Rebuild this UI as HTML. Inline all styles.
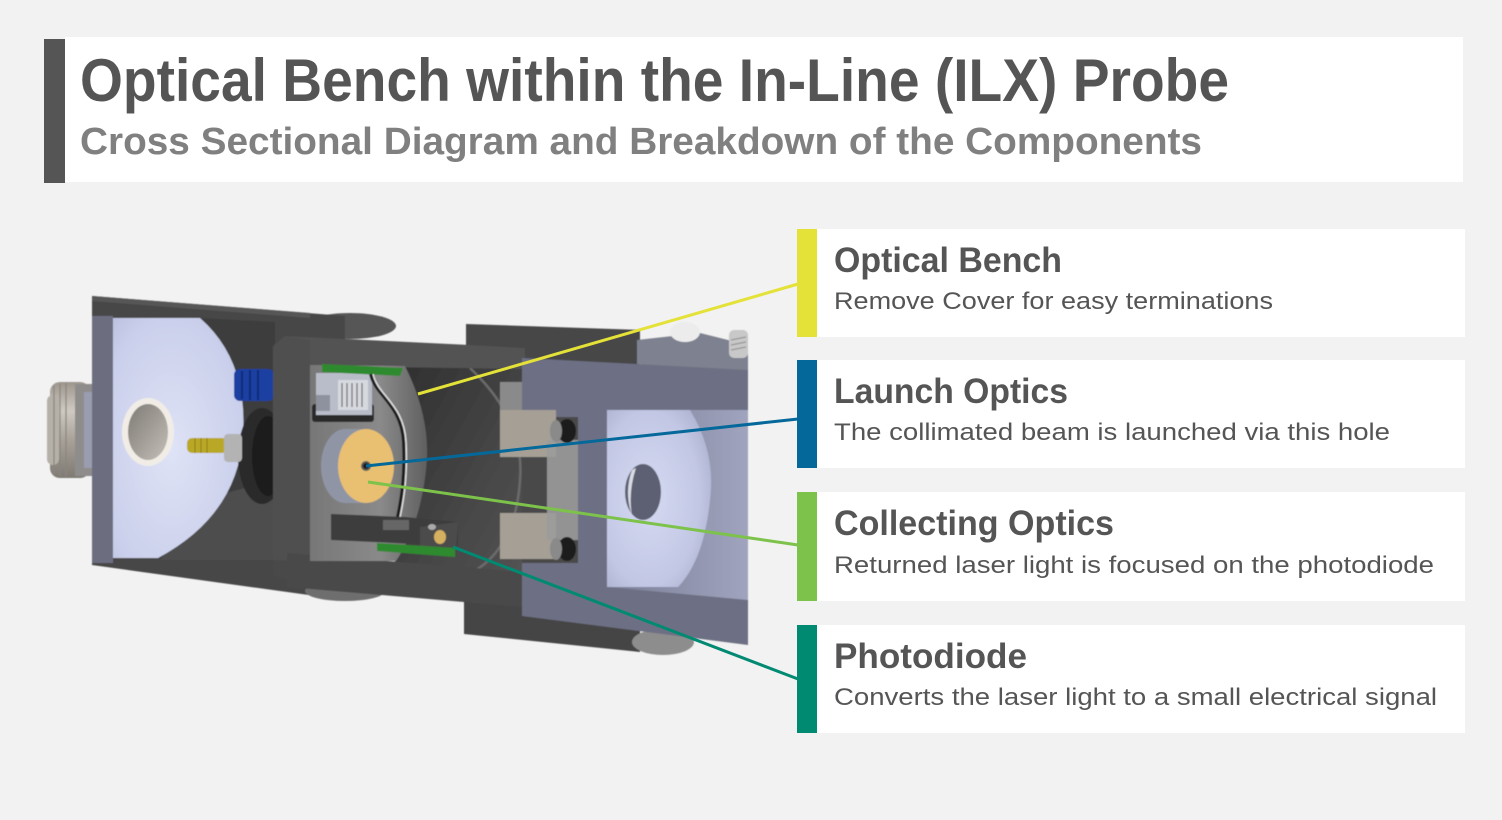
<!DOCTYPE html>
<html><head><meta charset="utf-8"><style>
html,body{margin:0;padding:0;background:#f2f2f2;}
svg{display:block;}
</style></head><body>
<svg width="1502" height="820" viewBox="0 0 1502 820" xmlns="http://www.w3.org/2000/svg">
<defs>
<radialGradient id="lav" cx="0.45" cy="0.55" r="0.75">
<stop offset="0" stop-color="#dfe3f6"/><stop offset="0.75" stop-color="#cacfeb"/><stop offset="1" stop-color="#b9bedc"/>
</radialGradient>
<radialGradient id="lav2" cx="0.4" cy="0.5" r="0.7">
<stop offset="0" stop-color="#d6daf2"/><stop offset="0.7" stop-color="#c2c7e4"/><stop offset="1" stop-color="#a9aecc"/>
</radialGradient>
<linearGradient id="hole" x1="0" y1="0" x2="1" y2="1">
<stop offset="0" stop-color="#7e7a75"/><stop offset="1" stop-color="#c4bfb7"/>
</linearGradient>
<linearGradient id="tube" x1="0" y1="0" x2="1" y2="1">
<stop offset="0" stop-color="#2f2f2f"/><stop offset="0.6" stop-color="#474747"/><stop offset="1" stop-color="#555"/>
</linearGradient>
<linearGradient id="plate" x1="0" y1="0" x2="1" y2="0">
<stop offset="0" stop-color="#777"/><stop offset="0.6" stop-color="#8a8a8a"/><stop offset="1" stop-color="#606060"/>
</linearGradient>
<linearGradient id="rtube" x1="0" y1="0" x2="1" y2="0">
<stop offset="0" stop-color="#7a7e96"/><stop offset="1" stop-color="#a0a4be"/>
</linearGradient>
<linearGradient id="fit" x1="0" y1="0" x2="0" y2="1">
<stop offset="0" stop-color="#9c968d"/><stop offset="0.3" stop-color="#cfcac2"/><stop offset="0.6" stop-color="#a8a299"/><stop offset="1" stop-color="#7f7a73"/>
</linearGradient>
<filter id="soft"><feGaussianBlur stdDeviation="0.6"/></filter>
</defs>

<rect width="1502" height="820" fill="#f2f2f2"/>

<!-- Title -->
<rect x="65" y="37" width="1398" height="145" fill="#ffffff"/>
<rect x="44" y="39" width="21" height="144" fill="#555555"/>
<text x="80" y="101" font-family="Liberation Sans, sans-serif" font-weight="bold" font-size="60" fill="#555555" textLength="1149" lengthAdjust="spacingAndGlyphs">Optical Bench within the In-Line (ILX) Probe</text>
<text x="80" y="154" font-family="Liberation Sans, sans-serif" font-weight="bold" font-size="38" fill="#808080" textLength="1122" lengthAdjust="spacingAndGlyphs">Cross Sectional Diagram and Breakdown of the Components</text>

<!-- Device -->
<g filter="url(#soft)">
<!-- left housing body -->
<ellipse cx="350" cy="326" rx="46" ry="13" fill="#575757"/>
<polygon points="92,296 345,316 345,600 92,565" fill="#474747"/>
<polygon points="92,296 310,313 310,318 92,301" fill="#565656"/>
<ellipse cx="345" cy="591" rx="40" ry="10" fill="#6e6e6e"/>
<!-- interior shading -->
<polygon points="200,318 275,322 275,560 160,560" fill="#3d3d3d"/>
<polygon points="200,500 275,480 275,560 160,560" fill="#4e4e4e"/>

<!-- left fitting -->
<rect x="50" y="382" width="40" height="96" rx="10" fill="url(#fit)"/>
<rect x="47" y="395" width="12" height="70" rx="6" fill="#b5b0a8"/>
<g stroke="#8a857e" stroke-width="1.2">
<line x1="54" y1="386" x2="54" y2="474"/><line x1="60" y1="384" x2="60" y2="476"/><line x1="66" y1="383" x2="66" y2="477"/>
</g>
<rect x="75" y="384" width="17" height="92" fill="#8f8c8c"/>
<rect x="84" y="392" width="8" height="76" fill="#9a9cb0"/>

<!-- left wall strip and disc face -->
<rect x="92" y="316" width="21" height="247" fill="#6c6e80"/>
<path d="M113,318 L200,318 Q248,360 243,435 Q238,515 158,558 L113,558 Z" fill="url(#lav)"/>
<!-- hole -->
<ellipse cx="148" cy="432" rx="26" ry="34" fill="#f1ede6"/>
<ellipse cx="148" cy="432" rx="20" ry="28" fill="url(#hole)"/>

<!-- black ring -->
<ellipse cx="262" cy="456" rx="24" ry="48" fill="#2a2a2a"/>
<ellipse cx="268" cy="456" rx="16" ry="40" fill="#1f1f1f"/>
<!-- pin -->
<rect x="187" y="438" width="40" height="15" rx="5" fill="#b9a726"/>
<g stroke="#8a7a10" stroke-width="1"><line x1="195" y1="438" x2="195" y2="453"/><line x1="201" y1="438" x2="201" y2="453"/><line x1="207" y1="438" x2="207" y2="453"/></g>
<rect x="224" y="434" width="18" height="28" rx="4" fill="#b3b3b3"/>
<!-- blue connector -->
<rect x="234" y="369" width="40" height="32" rx="6" fill="#1c3fa2"/>
<g stroke="#102a78" stroke-width="2"><line x1="242" y1="371" x2="242" y2="399"/><line x1="250" y1="370" x2="250" y2="400"/><line x1="258" y1="370" x2="258" y2="400"/></g>

<!-- right section back bars -->
<polygon points="466,324 640,330 640,366 466,360" fill="#474747"/>
<polygon points="464,595 640,608 640,652 464,634" fill="#444444"/>
<ellipse cx="663" cy="642" rx="31" ry="13" fill="#8d8d8d"/>

<!-- tube interior -->
<polygon points="395,362 525,366 525,595 395,585" fill="url(#tube)"/>
<path d="M470,368 Q525,420 520,480 Q515,560 455,580" fill="none" stroke="#6a6a6a" stroke-width="2.5"/>
<rect x="500" y="382" width="24" height="28" fill="#8a8a8a"/>

<!-- middle frame -->
<polygon points="285,336 470,345 525,348 525,369 310,366 285,362" fill="#535353"/>
<polygon points="273,346 285,336 310,340 310,564 273,562" fill="#505050"/>
<polygon points="287,553 523,572 523,607 287,587" fill="#4a4a4a"/>
<polygon points="273,560 310,562 287,580 273,575" fill="#4a4a4a"/>

<!-- bench plate -->
<path d="M310,365 L405,366 Q432,420 426,470 Q420,525 396,561 L310,561 Z" fill="url(#plate)"/>

<!-- IC chip -->
<rect x="312" y="404" width="62" height="18" rx="3" fill="#2c2c2c"/>
<rect x="316" y="373" width="56" height="42" fill="#b9bdc9"/>
<rect x="338" y="380" width="30" height="30" fill="#d7d9e0"/>
<g stroke="#6a6a6a" stroke-width="1.2"><line x1="342" y1="383" x2="342" y2="407"/><line x1="347" y1="383" x2="347" y2="407"/><line x1="352" y1="383" x2="352" y2="407"/><line x1="357" y1="383" x2="357" y2="407"/><line x1="362" y1="383" x2="362" y2="407"/></g>
<rect x="316" y="395" width="14" height="16" fill="#8e929e"/>
<!-- green PCB top -->
<polygon points="322,364 403,368 400,376 322,372" fill="#2e8a2e"/>

<!-- cable -->
<path d="M371,374 C376,396 402,404 404,442 C406,482 400,508 397,522" fill="none" stroke="#1e1e1e" stroke-width="4"/>
<path d="M373,374 C378,396 404,404 406,442 C408,482 402,508 399,522" fill="none" stroke="#e0e0e0" stroke-width="1.6"/>

<!-- cylinder + orange disc -->
<ellipse cx="345" cy="466" rx="24" ry="37" fill="#9095a6"/>
<rect x="345" y="429" width="20" height="74" fill="#9095a6"/>
<ellipse cx="366" cy="466" rx="28" ry="37" fill="#e9bf72"/>
<circle cx="366" cy="466" r="5" fill="#5a5a5a"/>
<circle cx="366" cy="466" r="3" fill="#1a1a1a"/>

<!-- bottom bracket -->
<polygon points="331,514 405,517 458,522 458,546 331,540" fill="#3e3e3e"/>
<rect x="383" y="520" width="26" height="10" fill="#666"/>
<polygon points="420,527 458,522 456,550 420,552" fill="#4c4c4c"/>
<polygon points="377,543 455,548 455,557 377,551" fill="#2e8a2e"/>
<ellipse cx="440" cy="537" rx="6" ry="7" fill="#d4b060"/>
<ellipse cx="432" cy="527" rx="4" ry="3" fill="#aaa"/>

<!-- top right bracket & screws -->
<polygon points="637,340 700,333 748,345 748,374 637,364" fill="#7e818f"/>
<ellipse cx="685" cy="332" rx="15" ry="10" fill="#ececec"/>
<rect x="729" y="330" width="19" height="28" rx="5" fill="#c8c8c8"/>
<g stroke="#8a8a8a" stroke-width="1"><line x1="731" y1="340" x2="746" y2="337"/><line x1="731" y1="345" x2="746" y2="342"/><line x1="731" y1="350" x2="746" y2="347"/></g>

<!-- right housing -->
<polygon points="522,358 748,370 748,645 522,616" fill="#6d7084"/>
<polygon points="607,410 748,410 748,600 607,587" fill="url(#rtube)"/>
<path d="M607,410 L690,410 Q716,452 710,500 Q704,560 678,587 L607,587 Z" fill="url(#lav2)"/>
<ellipse cx="643" cy="492" rx="18" ry="28" fill="#5d6172"/>
<path d="M632,470 Q624,492 632,516 Q628,492 636,468 Z" fill="#d9dbe4"/>
<!-- left notch -->
<rect x="522" y="417" width="56" height="146" fill="#4a4a4a"/>
<rect x="500" y="410" width="56" height="47" fill="#a59f95"/>
<rect x="500" y="513" width="56" height="46" fill="#a59f95"/>
<rect x="547" y="440" width="31" height="100" fill="#9b9b9b" opacity="0.9"/>
<ellipse cx="567" cy="431" rx="9" ry="12" fill="#1f1f1f"/>
<ellipse cx="556" cy="431" rx="6" ry="11" fill="#8a8a8a"/>
<ellipse cx="567" cy="549" rx="9" ry="12" fill="#1f1f1f"/>
<ellipse cx="556" cy="549" rx="6" ry="11" fill="#8a8a8a"/>
</g>

<!-- connector lines -->
<g stroke-width="3" fill="none">
<line x1="418" y1="394" x2="798" y2="284" stroke="#e4e238"/>
<line x1="366" y1="466" x2="798" y2="419" stroke="#04699a"/>
<line x1="368" y1="482" x2="798" y2="545" stroke="#7cc24b"/>
<line x1="453" y1="547" x2="798" y2="679" stroke="#008a72"/>
</g>

<!-- callouts -->
<g font-family="Liberation Sans, sans-serif" fill="#555555">
<rect x="817" y="229" width="648" height="108" fill="#ffffff"/>
<rect x="797" y="229" width="20" height="108" fill="#e4e238"/>
<text x="834" y="272" font-weight="bold" font-size="35" textLength="228" lengthAdjust="spacingAndGlyphs">Optical Bench</text>
<text x="834" y="309" font-size="24" textLength="439" lengthAdjust="spacingAndGlyphs">Remove Cover for easy terminations</text>

<rect x="817" y="360" width="648" height="108" fill="#ffffff"/>
<rect x="797" y="360" width="20" height="108" fill="#04699a"/>
<text x="834" y="403" font-weight="bold" font-size="35" textLength="234" lengthAdjust="spacingAndGlyphs">Launch Optics</text>
<text x="834" y="440" font-size="24" textLength="556" lengthAdjust="spacingAndGlyphs">The collimated beam is launched via this hole</text>

<rect x="817" y="492" width="648" height="109" fill="#ffffff"/>
<rect x="797" y="492" width="20" height="109" fill="#7cc24b"/>
<text x="834" y="535" font-weight="bold" font-size="35" textLength="280" lengthAdjust="spacingAndGlyphs">Collecting Optics</text>
<text x="834" y="573" font-size="24" textLength="600" lengthAdjust="spacingAndGlyphs">Returned laser light is focused on the photodiode</text>

<rect x="817" y="625" width="648" height="108" fill="#ffffff"/>
<rect x="797" y="625" width="20" height="108" fill="#008a72"/>
<text x="834" y="668" font-weight="bold" font-size="35" textLength="193" lengthAdjust="spacingAndGlyphs">Photodiode</text>
<text x="834" y="705" font-size="24" textLength="603" lengthAdjust="spacingAndGlyphs">Converts the laser light to a small electrical signal</text>
</g>
</svg>
</body></html>
